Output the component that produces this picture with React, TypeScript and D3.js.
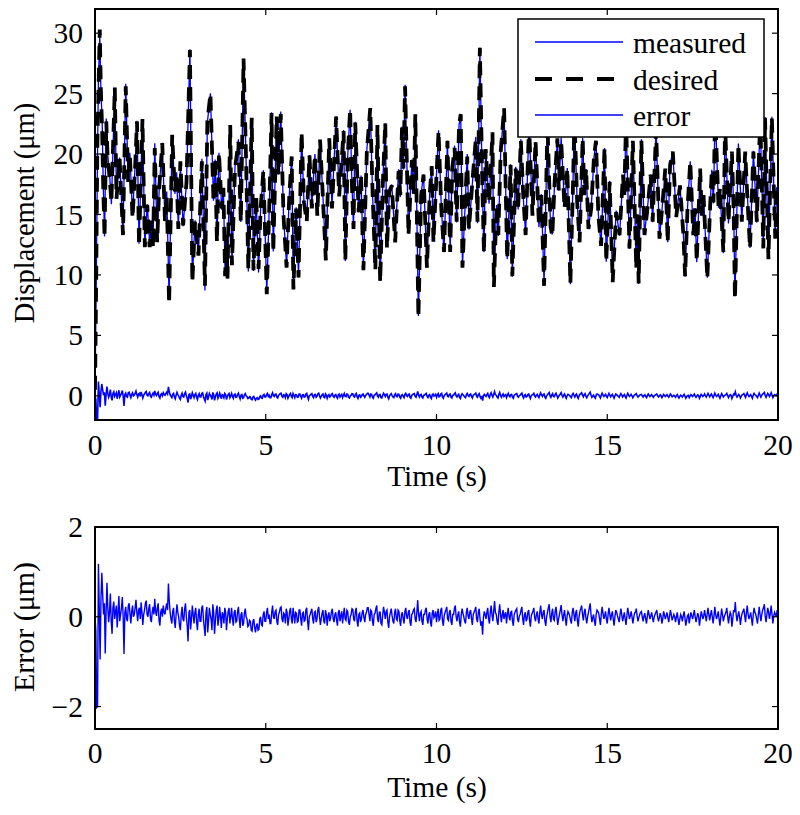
import React from "react";
import * as d3 from "d3";

// ---------- data ----------
const desiredT = [
  0, 0.03, 0.07, 0.1, 0.14, 0.17, 0.21, 0.24, 0.28, 0.33, 0.37, 0.43, 0.48, 0.58, 0.63, 0.72, 0.82, 0.9, 0.97,
  1.02, 1.1, 1.17, 1.23, 1.29, 1.39, 1.46, 1.53, 1.6, 1.66, 1.7, 1.75, 1.82, 1.88, 1.97,
  2.05, 2.1, 2.17, 2.26, 2.34, 2.39, 2.44, 2.5, 2.58, 2.68, 2.78, 2.85, 2.93,
  3.03, 3.13, 3.22, 3.29, 3.38, 3.47, 3.52, 3.57, 3.63, 3.71, 3.76, 3.81, 3.85, 3.88, 3.96,
  4.01, 4.1, 4.2, 4.27, 4.35, 4.42, 4.49, 4.59, 4.64, 4.72, 4.79, 4.85, 4.93,
  5.03, 5.11, 5.17, 5.22, 5.32, 5.37, 5.44, 5.52, 5.61, 5.69, 5.76, 5.81, 5.89, 5.96,
  6.05, 6.12, 6.2, 6.28, 6.35, 6.44, 6.51, 6.59, 6.67, 6.76, 6.86, 6.94,
  7.06, 7.15, 7.28, 7.33, 7.4, 7.47, 7.52, 7.57, 7.62, 7.72, 7.79, 7.86, 7.96,
  8.06, 8.13, 8.21, 8.27, 8.35, 8.43, 8.5, 8.55, 8.62, 8.69, 8.79, 8.89, 8.94, 8.99,
  9.03, 9.08, 9.18, 9.28, 9.33, 9.38, 9.47, 9.55, 9.62, 9.72, 9.8, 9.86, 9.91,
  10.06, 10.14, 10.22, 10.32, 10.4, 10.46, 10.53, 10.59, 10.66, 10.71, 10.76, 10.84, 10.9, 10.95,
  11.05, 11.15, 11.2, 11.27, 11.34, 11.39, 11.44, 11.54, 11.64, 11.68, 11.76, 11.81, 11.88, 11.98,
  12.03, 12.07, 12.17, 12.22, 12.32, 12.39, 12.47, 12.54, 12.61, 12.71, 12.81, 12.9,
  13.0, 13.07, 13.15, 13.25, 13.34, 13.39, 13.46, 13.54, 13.58, 13.65, 13.75, 13.83, 13.92, 13.99,
  14.04, 14.12, 14.19, 14.28, 14.33, 14.38, 14.45, 14.53, 14.61, 14.67, 14.74, 14.82, 14.92, 14.97,
  15.07, 15.16, 15.26, 15.36, 15.46, 15.5, 15.55, 15.65, 15.75, 15.85, 15.88, 15.92,
  16.0, 16.09, 16.19, 16.27, 16.33, 16.43, 16.53, 16.63, 16.7, 16.77, 16.84, 16.92,
  17.02, 17.13, 17.23, 17.28, 17.35, 17.43, 17.52, 17.57, 17.62, 17.72, 17.77, 17.82, 17.93,
  18.01, 18.06, 18.11, 18.16, 18.26, 18.3, 18.4, 18.45, 18.55, 18.65, 18.7, 18.74, 18.84, 18.94,
  19.04, 19.1, 19.18, 19.28, 19.38, 19.48, 19.57, 19.62, 19.72, 19.82, 19.92, 19.96, 20,
];
const desiredV = [
  0.5, 8, 21, 25, 30.3, 25.5, 21.9, 17.4, 13.1, 22.7, 19.7, 18, 16, 25.5, 16.3, 19.7, 13.3, 25.6, 17.7,
  20, 14.7, 18.6, 22.7, 12.4, 22.9, 12.3, 15.8, 12.3, 14.5, 12.2, 20.5, 12.7, 17.2, 20.9,
  14.4, 16.6, 7.6, 21.6, 16.9, 18.3, 13.8, 19.4, 14.1, 17.7, 28.6, 9.4, 14.4,
  11.6, 19.4, 9.1, 22.7, 25, 16, 19.7, 12.7, 20.1, 15.5, 17.2, 9.9, 13.3, 9.7, 22.4,
  10.8, 18.8, 21, 14.4, 27.9, 20, 10.5, 23, 10.4, 16.6, 10.5, 15.5, 18.6,
  8.4, 16.3, 23.4, 11.9, 23.1, 18.3, 23.3, 14.9, 10.6, 16.6, 19.8, 8.8, 15.5, 9.8,
  21.8, 16, 14.4, 19.9, 15.5, 19.9, 14.9, 21.2, 16.6, 11.2, 21.3, 15.5,
  23.1, 16.5, 21.9, 11.2, 19.7, 23.7, 17.7, 13.8, 22.6, 15.2, 18.3, 10.4, 20.2,
  23.8, 16.6, 10.4, 22.4, 9.4, 17.7, 22.6, 12.2, 16.9, 17.4, 12.7, 18.6, 16.6, 22.2,
  18.8, 25.6, 13.3, 19.5, 16.6, 23.3, 6.5, 16.6, 18.3, 10.6, 16.6, 19, 12.7,
  21.9, 15.5, 11.9, 21.1, 11.9, 18.8, 20.5, 14.4, 22.4, 23.3, 10.6, 16, 19.8, 13.8,
  17.7, 21.2, 14.4, 28.8, 17.7, 11.8, 20.4, 16, 21.8, 9, 15.8, 13.3, 20.2, 23.8,
  16.6, 11.3, 19.1, 9.9, 18.8, 15.5, 21.1, 16.6, 13.3, 22.5, 14.9, 21.1,
  14.1, 16.6, 9.1, 22.5, 14, 13.2, 17.7, 21.3, 17, 21.1, 15.5, 18.8, 9.3, 16.6,
  23, 16, 12.7, 21.3, 16.6, 18.8, 13.8, 15.5, 19.7, 21.1, 14.9, 12.4, 20.5, 11.1,
  17.7, 9.4, 15.2, 13.3, 18.3, 16.6, 22.8, 12.2, 21.1, 10.5, 15, 9.3,
  21.1, 13.3, 15.8, 18.3, 14.4, 22, 13, 16.3, 18.8, 12.7, 19.1, 20.2,
  14.8, 17.4, 13.3, 9.9, 15.5, 19.4, 13.3, 15.5, 11.1, 18.8, 14.9, 16.6, 9.7,
  15.5, 18.6, 16, 23.5, 15.5, 17.2, 11.9, 22.5, 14.4, 20.2, 15.5, 8, 20.8, 14.4,
  20.2, 16.6, 12.2, 20.2, 14.4, 23, 12.2, 23, 11.3, 23, 13, 17.2, 16,
];

// error (µm), evenly spaced samples from t = 0 to t = 20 (40 per second)
const errorV = [
  0.0, -0.3, -2.02, -2.0, 1.18, 0.2, -0.95, 0.4, 0.98, 0.5, 0.05, 0.3, -0.82, 0.1, 0.76, 0.2, -0.12, 0.1, 0.52, -0.1, -0.38, 0.2, 0.34, -0.05, 0.1, 0.25, -0.24, 0.1, 0.46, -0.1, 0.05, 0.2, 0.44, 0.0, -0.83, 0.1, 0.22, -0.05, -0.1, 0.25,
  0.3, 0.05, -0.15, 0.12, 0.25, 0.0, 0.05, 0.2, 0.38, 0.1, -0.1, 0.15, 0.2, -0.05, 0.32, 0.1, -0.18, 0.05, 0.15, 0.3, 0.36, 0.05, 0.0, 0.18, 0.28, -0.05, -0.12, 0.1, 0.22, 0.05, 0.4, 0.12, 0.02, 0.2, 0.3, -0.08, -0.2, 0.1, 0.18, 0.0,
  0.25, 0.1, 0.05, 0.2, 0.3, 0.15, 0.74, 0.35, 0.1, -0.05, -0.15, 0.12, 0.2, -0.1, -0.25, 0.05, 0.28, 0.1, 0.0, -0.2, -0.3, 0.05, 0.22, -0.05, -0.1, 0.18, 0.3, 0.0, -0.2, -0.55, 0.1, 0.15, -0.28, -0.05, 0.25, 0.05, -0.15, 0.1, 0.2, -0.12,
  -0.3, 0.05, 0.18, -0.1, -0.1, 0.2, 0.25, -0.05, -0.25, -0.43, 0.1, 0.22, -0.35, -0.1, 0.2, 0.05, -0.05, -0.3, 0.28, 0.1, -0.38, -0.1, 0.15, 0.25, -0.2, -0.05, 0.22, 0.0, -0.25, 0.1, 0.05, -0.15, 0.2, 0.1, -0.3, -0.05, 0.12, 0.2, -0.15, 0.0,
  0.2, -0.05, -0.2, 0.1, 0.15, -0.12, -0.1, 0.12, 0.22, -0.05, -0.25, 0.05, 0.1, -0.2, -0.15, 0.08, 0.18, 0.0, -0.05, -0.22, -0.2, -0.08, -0.1, -0.3, -0.32, -0.1, -0.05, -0.25, -0.35, -0.2, -0.15, -0.3, -0.28, -0.05, 0.0, -0.18, -0.2, 0.05, 0.12, -0.1,
  -0.1, 0.1, 0.2, -0.05, 0.05, -0.15, -0.15, 0.1, 0.25, 0.0, -0.05, 0.12, 0.15, -0.1, -0.18, 0.05, 0.1, 0.2, 0.22, -0.05, -0.12, 0.08, 0.05, -0.15, 0.18, 0.1, -0.2, -0.05, 0.12, 0.2, -0.05, -0.15, 0.2, 0.05, -0.15, 0.1, 0.08, -0.12, -0.1, 0.15,
  0.15, -0.05, -0.2, 0.08, 0.1, -0.1, -0.08, 0.15, 0.2, -0.1, -0.3, 0.0, 0.05, 0.12, 0.18, -0.05, -0.15, 0.1, 0.12, -0.12, -0.05, 0.15, 0.22, 0.0, -0.18, -0.05, 0.08, 0.15, -0.1, -0.15, 0.15, 0.05, -0.2, 0.02, 0.1, -0.1, -0.02, 0.12, 0.18, -0.05,
  -0.12, 0.05, 0.1, -0.08, -0.2, 0.1, 0.15, -0.1, 0.02, 0.12, -0.15, 0.05, 0.2, -0.05, -0.08, 0.15, 0.12, -0.12, -0.18, 0.0, 0.05, 0.18, 0.16, -0.05, -0.1, 0.12, 0.2, -0.1, -0.22, 0.05, 0.08, -0.12, -0.05, 0.1, 0.15, -0.02, -0.12, 0.05, 0.1, 0.2,
  0.2, 0.05, -0.1, 0.15, 0.12, -0.1, -0.2, 0.05, 0.08, 0.18, 0.25, -0.05, -0.12, 0.1, 0.1, -0.15, -0.18, 0.05, 0.22, 0.1, -0.05, 0.12, 0.15, -0.12, -0.25, 0.0, 0.1, 0.18, 0.02, -0.1, -0.15, 0.1, 0.18, -0.05, -0.08, 0.15, 0.12, -0.1, -0.2, 0.05,
  0.1, -0.05, -0.15, 0.12, 0.2, 0.0, -0.05, 0.1, 0.15, -0.12, -0.2, 0.05, 0.08, 0.15, 0.18, -0.05, -0.12, 0.1, 0.37, 0.05, -0.1, 0.08, 0.12, -0.1, -0.18, 0.05, 0.05, 0.15, 0.2, -0.05, -0.15, 0.05, 0.1, -0.12, -0.22, 0.08, 0.15, -0.02, 0.02, 0.12,
  -0.12, 0.05, 0.18, -0.08, -0.05, 0.15, 0.2, -0.1, -0.2, 0.02, 0.1, 0.15, 0.22, -0.05, -0.08, 0.1, 0.15, -0.1, -0.18, 0.05, 0.05, 0.18, 0.25, 0.0, -0.1, 0.05, 0.12, -0.12, -0.22, 0.05, 0.18, 0.08, 0.0, -0.1, -0.15, 0.1, 0.2, 0.02, -0.05, 0.1,
  0.15, -0.05, -0.18, 0.05, 0.1, 0.15, 0.22, -0.05, -0.12, 0.1, 0.18, -0.05, -0.2, -0.1, -0.4, 0.0, 0.12, 0.05, -0.05, 0.1, 0.2, -0.05, -0.15, 0.1, 0.25, 0.05, -0.1, 0.12, 0.35, 0.1, 0.05, -0.1, -0.18, 0.1, 0.28, 0.05, -0.12, 0.05, 0.15, -0.05,
  0.05, 0.1, -0.15, 0.05, 0.2, 0.0, -0.08, 0.1, 0.12, -0.1, -0.2, 0.05, 0.1, 0.15, 0.18, -0.05, -0.12, 0.02, 0.05, 0.15, 0.22, -0.05, -0.18, 0.05, 0.1, -0.1, -0.05, 0.1, 0.15, -0.08, -0.22, 0.02, 0.08, 0.12, 0.2, -0.02, -0.1, 0.05, 0.12, -0.05,
  -0.15, 0.1, 0.25, 0.05, -0.05, 0.1, 0.15, -0.1, -0.2, 0.0, 0.1, 0.2, 0.28, 0.0, -0.12, 0.08, 0.18, -0.05, -0.08, 0.12, 0.22, 0.02, -0.18, -0.05, 0.05, 0.15, 0.26, 0.05, -0.1, 0.05, 0.15, -0.05, -0.2, 0.02, 0.12, 0.08, 0.02, -0.08, -0.15, 0.1,
  0.2, 0.05, -0.1, 0.08, 0.15, -0.08, -0.22, 0.0, 0.12, 0.18, 0.25, 0.05, -0.08, 0.1, 0.18, -0.02, -0.15, 0.0, 0.1, 0.2, 0.3, 0.05, -0.12, -0.02, 0.05, -0.1, -0.2, 0.05, 0.15, 0.12, 0.08, -0.05, -0.18, 0.05, 0.22, 0.08, -0.05, 0.02, 0.12, -0.05,
  -0.15, 0.05, 0.2, 0.05, -0.08, 0.05, 0.12, -0.05, -0.2, 0.0, 0.15, 0.1, 0.02, -0.05, -0.12, 0.05, 0.18, 0.05, -0.1, 0.0, 0.1, -0.05, -0.18, 0.02, 0.2, 0.08, -0.05, 0.02, 0.12, 0.0, -0.15, -0.02, 0.08, 0.1, 0.18, 0.02, -0.1, -0.02, 0.05, 0.1,
  0.12, 0.0, -0.1, 0.02, 0.08, -0.05, -0.15, 0.02, 0.15, 0.05, -0.05, 0.02, 0.1, -0.02, -0.12, 0.0, 0.05, 0.1, 0.15, 0.0, -0.1, -0.02, 0.08, 0.02, -0.15, -0.05, 0.12, 0.05, -0.05, 0.02, 0.1, -0.02, -0.12, 0.02, 0.15, 0.05, -0.08, -0.02, 0.05, 0.0,
  -0.12, 0.0, 0.1, -0.05, -0.18, -0.05, 0.05, 0.0, -0.1, 0.02, 0.12, -0.02, -0.2, -0.08, 0.02, 0.05, -0.15, -0.02, 0.1, 0.02, -0.05, 0.05, 0.15, 0.0, -0.12, -0.02, 0.08, 0.02, -0.2, -0.05, 0.12, 0.05, -0.05, 0.02, 0.15, 0.02, -0.1, 0.05, 0.2, 0.05,
  -0.08, 0.05, 0.15, 0.0, -0.15, 0.02, 0.22, 0.05, -0.05, 0.02, 0.12, -0.05, -0.2, 0.0, 0.18, 0.05, -0.1, 0.0, 0.05, 0.1, 0.2, 0.02, -0.15, 0.0, 0.1, 0.05, -0.22, -0.05, 0.15, 0.1, 0.33, 0.05, -0.1, 0.02, 0.12, 0.0, -0.18, -0.02, 0.08, 0.12,
  0.18, 0.02, -0.12, 0.1, 0.25, 0.05, -0.05, 0.02, 0.1, -0.05, -0.2, 0.05, 0.2, 0.1, 0.05, -0.05, -0.15, 0.05, 0.22, 0.05, -0.1, 0.05, 0.15, 0.2, 0.28, 0.02, -0.12, 0.05, 0.2, 0.1, -0.05, 0.08, 0.25, 0.05, -0.15, 0.02, 0.1, 0.05, 0.0, 0.15,
  -0.05,
];

const xTicks = [0, 5, 10, 15, 20];
const topYTicks = [0, 5, 10, 15, 20, 25, 30];
const botYTicks = [-2, 0, 2];
const legendLabels = ["measured", "desired", "error"];

// ---------- layout ----------
const FONT = "Liberation Serif, DejaVu Serif, serif";
const BLUE = "#0000ff";
const left = 95;
const right = 778;
const top1 = 9;
const bot1 = 420;
const top2 = 527;
const bot2 = 729;

const errorStep = 20 / (errorV.length - 1);
const errorT = errorV.map((_, i) => i * errorStep);
const errorAt = (t: number) => {
  const i = Math.min(Math.floor(t / errorStep), errorV.length - 2);
  const f = (t - i * errorStep) / errorStep;
  return errorV[i] * (1 - f) + errorV[i + 1] * f;
};
const measuredV = desiredT.map((t, i) => desiredV[i] + errorAt(t));

const txt = { fontFamily: FONT, fontSize: 29.5 };

function Frame({ x, y, y0, y1, yTicks, fmt, labDy }: any) {
  const tl = 6;
  return (
    <g>
      {xTicks.map((t) => (
        <g key={"x" + t}>
          <line x1={x(t)} x2={x(t)} y1={y1} y2={y1 - tl} stroke="#000" strokeWidth={1.2} />
          <line x1={x(t)} x2={x(t)} y1={y0} y2={y0 + tl} stroke="#000" strokeWidth={1.2} />
        </g>
      ))}
      {yTicks.map((t: number) => (
        <g key={"y" + t}>
          <line x1={left} x2={left + tl} y1={y(t)} y2={y(t)} stroke="#000" strokeWidth={1.2} />
          <line x1={right} x2={right - tl} y1={y(t)} y2={y(t)} stroke="#000" strokeWidth={1.2} />
        </g>
      ))}
      <rect x={left} y={y0} width={right - left} height={y1 - y0} fill="none" stroke="#000" strokeWidth={2} />
      {xTicks.map((t) => (
        <text key={"xl" + t} x={x(t)} y={y1 + labDy} textAnchor="middle" style={txt}>
          {t}
        </text>
      ))}
      {yTicks.map((t: number) => (
        <text key={"yl" + t} x={83} y={y(t) + 10} textAnchor="end" style={txt}>
          {fmt(t)}
        </text>
      ))}
    </g>
  );
}

export default function App() {
  const x = d3.scaleLinear().domain([0, 20]).range([left, right]);
  const y1 = d3.scaleLinear().domain([-2, 32]).range([bot1, top1]);
  const y2 = d3.scaleLinear().domain([-2.5, 2]).range([bot2, top2]);

  const lineTop = d3
    .line<number>()
    .x((_, i) => x(desiredT[i]))
    .y((v) => y1(v));
  const errTop = d3
    .line<number>()
    .x((_, i) => x(errorT[i]))
    .y((v) => y1(v));
  const errBot = d3
    .line<number>()
    .x((_, i) => x(errorT[i]))
    .y((v) => y2(v));

  const fmt = (v: number) => (v < 0 ? "\u2212" + Math.abs(v) : String(v));

  const lx0 = 518, ly0 = 19, lx1 = 764, ly1 = 137;
  const rowY = [42, 79, 115];

  return (
    <svg width={800} height={815} style={{ position: "absolute", left: 0, top: 0, background: "#fff" }}>
      <defs>
        <clipPath id="c1">
          <rect x={left} y={top1} width={right - left} height={bot1 - top1} />
        </clipPath>
        <clipPath id="c2">
          <rect x={left} y={top2} width={right - left} height={bot2 - top2} />
        </clipPath>
      </defs>
      <rect x={0} y={0} width={800} height={815} fill="#fff" />

      {/* top panel */}
      <g clipPath="url(#c1)">
        <path d={lineTop(measuredV) || ""} fill="none" stroke={BLUE} strokeWidth={1.3} />
        <path d={lineTop(desiredV) || ""} fill="none" stroke="#000" strokeWidth={3.8} strokeDasharray="14,8" />
        <path d={errTop(errorV) || ""} fill="none" stroke={BLUE} strokeWidth={1.6} />
      </g>
      <Frame x={x} y={y1} y0={top1} y1={bot1} yTicks={topYTicks} fmt={fmt} labDy={35} />
      <text x={437} y={486} textAnchor="middle" style={txt}>
        Time (s)
      </text>
      <text transform={`translate(34, 213) rotate(-90)`} textAnchor="middle" style={{ fontFamily: FONT, fontSize: 28.5 }}>
        Displacement (μm)
      </text>

      {/* legend */}
      <rect x={lx0} y={ly0} width={lx1 - lx0} height={ly1 - ly0} fill="#fff" stroke="#000" strokeWidth={1.5} />
      {legendLabels.map((lab, i) => (
        <g key={lab}>
          <line
            x1={535}
            x2={623}
            y1={rowY[i]}
            y2={rowY[i]}
            stroke={i === 1 ? "#000" : BLUE}
            strokeWidth={i === 1 ? 3.8 : 1.3}
            strokeDasharray={i === 1 ? "17,14" : undefined}
          />
          <text x={633} y={rowY[i] + 11} style={txt}>
            {lab}
          </text>
        </g>
      ))}

      {/* bottom panel */}
      <g clipPath="url(#c2)">
        <path d={errBot(errorV) || ""} fill="none" stroke={BLUE} strokeWidth={1.4} />
      </g>
      <Frame x={x} y={y2} y0={top2} y1={bot2} yTicks={botYTicks} fmt={fmt} labDy={34} />
      <text x={437} y={797} textAnchor="middle" style={txt}>
        Time (s)
      </text>
      <text transform={`translate(34, 627) rotate(-90)`} textAnchor="middle" style={{ fontFamily: FONT, fontSize: 30 }}>
        Error (μm)
      </text>
    </svg>
  );
}
